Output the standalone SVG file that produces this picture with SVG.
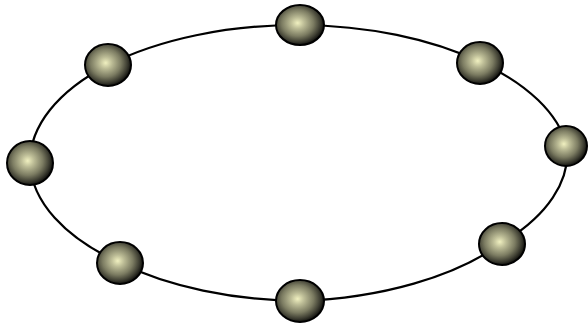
<svg xmlns="http://www.w3.org/2000/svg" width="588" height="329" viewBox="0 0 588 329">
<defs>
<radialGradient id="ball" cx="0.45" cy="0.45" r="0.55">
<stop offset="0" stop-color="#f0f0c0"/>
<stop offset="0.25" stop-color="#bcbc96"/>
<stop offset="0.6" stop-color="#7c7c62"/>
<stop offset="0.85" stop-color="#3e3e32"/>
<stop offset="1" stop-color="#141410"/>
</radialGradient>
</defs>
<style>
.edge{fill:none;stroke:#000;stroke-width:2.2}
.node{fill:url(#ball);stroke:#000;stroke-width:2}
</style>
<rect width="588" height="329" fill="#fff"/>
<g id="connectors">
<path class="edge" d="M300,25 A270,138 0 0 1 480,62"/>
<path class="edge" d="M480,62 A270,138 0 0 1 567,146"/>
<path class="edge" d="M567,146 A270,138 0 0 1 502,243"/>
<path class="edge" d="M502,243 A270,138 0 0 1 300,301"/>
<path class="edge" d="M300,301 A270,138 0 0 1 120,263"/>
<path class="edge" d="M120,263 A270,138 0 0 1 30,163"/>
<path class="edge" d="M30,163 A270,138 0 0 1 108,65"/>
<path class="edge" d="M108,65 A270,138 0 0 1 300,25"/>
</g>
<g id="n1"><ellipse class="node" cx="300" cy="25" rx="24" ry="20"/></g>
<g id="n2"><ellipse class="node" cx="480" cy="63" rx="23" ry="21"/></g>
<g id="n3"><ellipse class="node" cx="566" cy="146" rx="21" ry="20"/></g>
<g id="n4"><ellipse class="node" cx="502" cy="244" rx="23" ry="21"/></g>
<g id="n5"><ellipse class="node" cx="300" cy="301" rx="24" ry="21"/></g>
<g id="n6"><ellipse class="node" cx="120" cy="263" rx="23" ry="21"/></g>
<g id="n7"><ellipse class="node" cx="30" cy="163" rx="23" ry="22"/></g>
<g id="n8"><ellipse class="node" cx="108" cy="65" rx="23" ry="21"/></g>
</svg>
